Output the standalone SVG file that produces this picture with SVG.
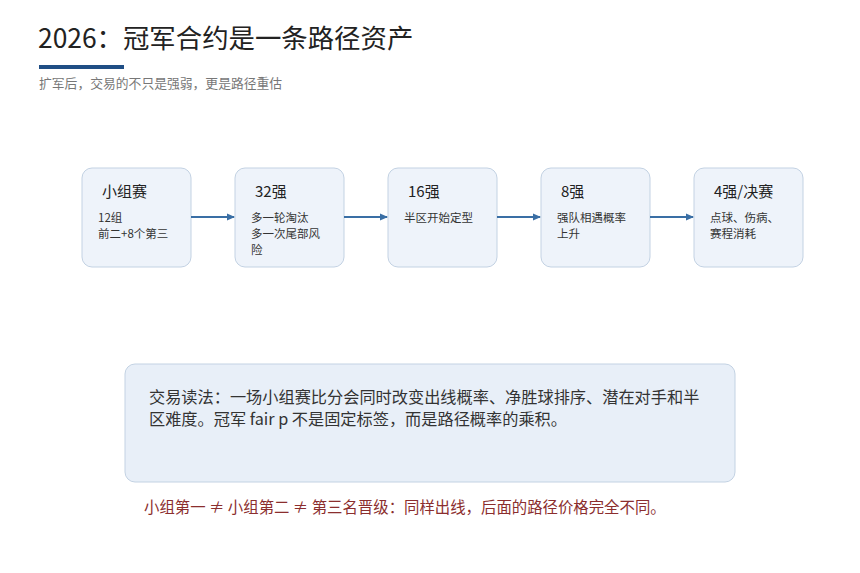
<svg xmlns="http://www.w3.org/2000/svg" width="860" height="573" viewBox="0 0 860 573">
<style>
text{font-family:"Noto Sans CJK SC","Noto Sans",sans-serif;}
.box{fill:#eef3fa;stroke:#c3d2e3;stroke-width:1}
.t{font-size:15px;fill:#222}
.s{font-size:11.5px;fill:#333}
.c{stroke:#3a6fa5;stroke-width:2;fill:none}
</style>
<defs><marker id="a" markerWidth="8" markerHeight="8" refX="7" refY="4" orient="auto" markerUnits="userSpaceOnUse"><path d="M0,0.5 L8,4 L0,7.5z" fill="#3a6fa5"/></marker></defs>
<rect width="860" height="573" fill="#fff"/>
<text x="38" y="48" font-size="26.4" fill="#222">2026：冠军合约是一条路径资产</text>
<rect x="39" y="65" width="85" height="4" fill="#1f4e85"/>
<text x="39" y="88" font-size="12.8" fill="#777">扩军后，交易的不只是强弱，更是路径重估</text>
<g id="n1"><rect class="box" x="82" y="168" width="109" height="99" rx="10"/><text class="t" x="102" y="197">小组赛</text><text class="s" x="98" y="222">12组</text><text class="s" x="98" y="238">前二+8个第三</text></g>
<g id="n2"><rect class="box" x="235" y="168" width="109" height="99" rx="10"/><text class="t" x="255" y="197">32强</text><text class="s" x="251" y="222">多一轮淘汰</text><text class="s" x="251" y="238">多一次尾部风</text><text class="s" x="251" y="254">险</text></g>
<g id="n3"><rect class="box" x="388" y="168" width="109" height="99" rx="10"/><text class="t" x="408" y="197">16强</text><text class="s" x="404" y="222">半区开始定型</text></g>
<g id="n4"><rect class="box" x="541" y="168" width="109" height="99" rx="10"/><text class="t" x="561" y="197">8强</text><text class="s" x="557" y="222">强队相遇概率</text><text class="s" x="557" y="238">上升</text></g>
<g id="n5"><rect class="box" x="694" y="168" width="109" height="99" rx="10"/><text class="t" x="714" y="197">4强/决赛</text><text class="s" x="710" y="222">点球、伤病、</text><text class="s" x="710" y="238">赛程消耗</text></g>
<g id="connectors">
<line class="c" x1="191" y1="217" x2="234" y2="217" marker-end="url(#a)"/>
<line class="c" x1="344" y1="217" x2="387" y2="217" marker-end="url(#a)"/>
<line class="c" x1="497" y1="217" x2="540" y2="217" marker-end="url(#a)"/>
<line class="c" x1="650" y1="217" x2="693" y2="217" marker-end="url(#a)"/>
</g>
<g id="note"><rect x="125" y="364" width="610" height="118" rx="10" fill="#e8eff8" stroke="#c3d2e3"/>
<text x="149" y="403" font-size="16.2" fill="#333">交易读法：一场小组赛比分会同时改变出线概率、净胜球排序、潜在对手和半</text>
<text x="149" y="425" font-size="16.2" fill="#333">区难度。冠军 fair p 不是固定标签，而是路径概率的乘积。</text></g>
<text x="144" y="513" font-size="15.4" fill="#8b2e2e">小组第一 ≠ 小组第二 ≠ 第三名晋级：同样出线，后面的路径价格完全不同。</text>
</svg>
